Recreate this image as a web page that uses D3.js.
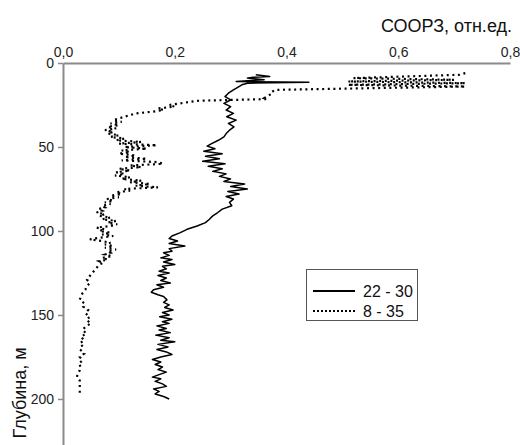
<!DOCTYPE html>
<html>
<head>
<meta charset="utf-8">
<script src="https://cdn.jsdelivr.net/npm/d3@7"></script>
<style>
  html, body { margin: 0; padding: 0; background: #fff; }
  svg { display: block; font-family: "Liberation Sans", Arial, sans-serif; }
</style>
</head>
<body>
<svg id="chart" width="520" height="445"></svg>
<script>
// ---- data ----
const xTicks = [0, 0.2, 0.4, 0.6, 0.8];
const yTicks = [0, 50, 100, 150, 200];
const seriesNames = ["22 - 30", "8 - 35"];
const xTitle = "СООРЗ, отн.ед.";
const yTitle = "Глубина, м";

const solidDepth = [7,8,8.5,9,10,10.5,11,11.5,12,13,14,16,18,20,22,24,26,28,30,32,34,36,38,40,42,44,46,48,49.5,51,52.5,54,55.5,57,58.5,60,61.5,63,64.5,66,67.5,69,70.5,72,73.5,75,76.5,78,79.5,81,83,85,87,89,91,93,95,97,99,101,103,104.5,106,107.5,109,110.5,112,113,114.5,116,117,118.5,120,121,122.5,124,125,126.5,128,129.5,131,132,133.5,135,136.5,138,139,141,142.5,144,145.5,147,148.5,150,151,152.5,154,155,156.5,158,159,160.5,162,163.5,165,166,167.5,169,170.5,172,173.5,175,176.5,178,179.5,181,182.5,184,185.5,187,188,189.5,191,192.5,194,195.5,197,198.5,200];
const solidValue = [0.345,0.37,0.34,0.33,0.36,0.33,0.31,0.44,0.33,0.32,0.315,0.305,0.296,0.29,0.30,0.288,0.30,0.292,0.305,0.293,0.31,0.296,0.306,0.298,0.292,0.288,0.278,0.266,0.258,0.272,0.252,0.285,0.255,0.28,0.25,0.29,0.26,0.285,0.268,0.292,0.28,0.30,0.288,0.325,0.30,0.33,0.295,0.315,0.292,0.305,0.298,0.302,0.285,0.277,0.268,0.262,0.255,0.24,0.222,0.21,0.195,0.19,0.205,0.19,0.218,0.19,0.195,0.18,0.19,0.175,0.195,0.18,0.20,0.178,0.185,0.172,0.19,0.17,0.185,0.175,0.192,0.168,0.18,0.162,0.158,0.17,0.18,0.186,0.18,0.19,0.182,0.197,0.178,0.19,0.173,0.195,0.178,0.19,0.168,0.185,0.172,0.192,0.166,0.19,0.175,0.20,0.17,0.188,0.168,0.185,0.195,0.175,0.16,0.175,0.165,0.178,0.17,0.185,0.172,0.16,0.175,0.165,0.178,0.185,0.162,0.172,0.165,0.18,0.19];

const dottedDepth = [6,7,9,10,11,12,13,14,16,17,18,19,20,21,21.5,22,22.5,24,25,26,27,28,29,30,31,32,33,34,35,36,37,38,39,40,41,42,43,44,45,46,47,48,49,50,51,52,53,54,55,56,57,58,59,60,61,62,63,64,65,66,67,68,69,70,71,72,73,74,75,76,77,78,79,80,81,82,83,84,85,86,87,88,89,90,91,92,93,94,95,96,97,98,99,100,101,102,103,104,105,106,107,108,109,110,111,112,113,114,115,116,117,118,119,120,122,124,126,128,129,131,133,135,137,139,141,143,145,147,149,151,153,155,157,159,161,163,165,167,169,171,173,175,177,179,181,183,185,187,189,192,195,198];
const dottedValue = [0.72,0.71,0.52,0.70,0.51,0.72,0.51,0.72,0.38,0.375,0.37,0.37,0.365,0.36,0.365,0.30,0.24,0.21,0.19,0.20,0.17,0.18,0.16,0.13,0.12,0.11,0.10,0.09,0.105,0.085,0.10,0.08,0.095,0.075,0.09,0.08,0.10,0.085,0.11,0.095,0.14,0.10,0.168,0.11,0.15,0.105,0.12,0.10,0.13,0.11,0.15,0.105,0.17,0.179,0.12,0.14,0.10,0.12,0.095,0.11,0.093,0.12,0.105,0.14,0.12,0.155,0.13,0.17,0.11,0.12,0.095,0.105,0.085,0.10,0.078,0.09,0.075,0.085,0.07,0.075,0.063,0.07,0.06,0.075,0.065,0.085,0.07,0.095,0.08,0.097,0.085,0.06,0.075,0.065,0.085,0.07,0.09,0.065,0.048,0.07,0.085,0.075,0.09,0.075,0.095,0.08,0.085,0.075,0.088,0.07,0.08,0.065,0.072,0.065,0.06,0.055,0.05,0.045,0.043,0.048,0.042,0.04,0.035,0.032,0.03,0.038,0.036,0.045,0.04,0.048,0.042,0.05,0.04,0.035,0.042,0.032,0.038,0.03,0.036,0.032,0.038,0.03,0.035,0.028,0.032,0.03,0.026,0.025,0.03,0.03,0.03,0.03];

// ---- layout ----
const svg = d3.select("#chart");
const mLeft = 63, mTop = 63, mRight = 510, mBottom = 445;

const x = d3.scaleLinear().domain([0, 0.8]).range([mLeft, mRight]);
const y = d3.scaleLinear().domain([0, 227.4]).range([mTop, mBottom]);

const fmt = v => d3.format(".1f")(v).replace(".", ",");

// x axis (top)
const xAxis = svg.append("g")
  .attr("transform", `translate(0,${mTop})`)
  .call(d3.axisTop(x).tickValues(xTicks).tickFormat(fmt).tickSize(0).tickPadding(6));
xAxis.select(".domain").attr("stroke", "#8a8a8a").attr("stroke-width", 2);
xAxis.selectAll("text").attr("font-size", 14).attr("fill", "#222")
  .attr("font-family", "Liberation Sans, Arial, sans-serif");

// y axis (left)
const yAxis = svg.append("g")
  .attr("transform", `translate(${mLeft},0)`)
  .call(d3.axisLeft(y).tickValues(yTicks).tickFormat(d3.format("d")).tickSize(5).tickSizeOuter(0).tickPadding(4));
yAxis.select(".domain").attr("stroke", "#8a8a8a").attr("stroke-width", 2);
yAxis.selectAll(".tick line").attr("stroke", "#8a8a8a").attr("stroke-width", 1.5);
yAxis.selectAll("text").attr("font-size", 14).attr("fill", "#222")
  .attr("font-family", "Liberation Sans, Arial, sans-serif");

// titles
svg.append("text").attr("x", 512).attr("y", 32).attr("text-anchor", "end")
  .attr("font-size", 18).attr("fill", "#111").text(xTitle);
svg.append("text").attr("transform", "translate(26,393) rotate(-90)")
  .attr("text-anchor", "middle").attr("font-size", 18).attr("fill", "#111").text(yTitle);

// lines
const line = d3.line().x(d => x(d[1])).y(d => y(d[0]));
const solidData = solidDepth.map((d, i) => [d, solidValue[i]]);
const dottedData = dottedDepth.map((d, i) => [d, dottedValue[i]]);

svg.append("path").datum(dottedData).attr("d", line)
  .attr("fill", "none").attr("stroke", "#000").attr("stroke-width", 2.2)
  .attr("stroke-dasharray", "2 3.6");
svg.append("path").datum(solidData).attr("d", line)
  .attr("fill", "none").attr("stroke", "#000").attr("stroke-width", 1.5)
  .attr("stroke-linejoin", "round");

// legend
const lg = svg.append("g");
lg.append("rect").attr("x", 306.5).attr("y", 269.5).attr("width", 111).attr("height", 51)
  .attr("fill", "#fff").attr("stroke", "#555").attr("stroke-width", 1);
const legendStyles = [{dash: null, w: 1.8}, {dash: "2 2", w: 2}];
seriesNames.forEach((name, i) => {
  const yy = 291 + i * 20;
  lg.append("line").attr("x1", 313).attr("x2", 355).attr("y1", yy).attr("y2", yy)
    .attr("stroke", "#000").attr("stroke-width", legendStyles[i].w)
    .attr("stroke-dasharray", legendStyles[i].dash);
  lg.append("text").attr("x", 363).attr("y", yy + 6).attr("font-size", 16)
    .attr("fill", "#111").text(name);
});
</script>
</body>
</html>
